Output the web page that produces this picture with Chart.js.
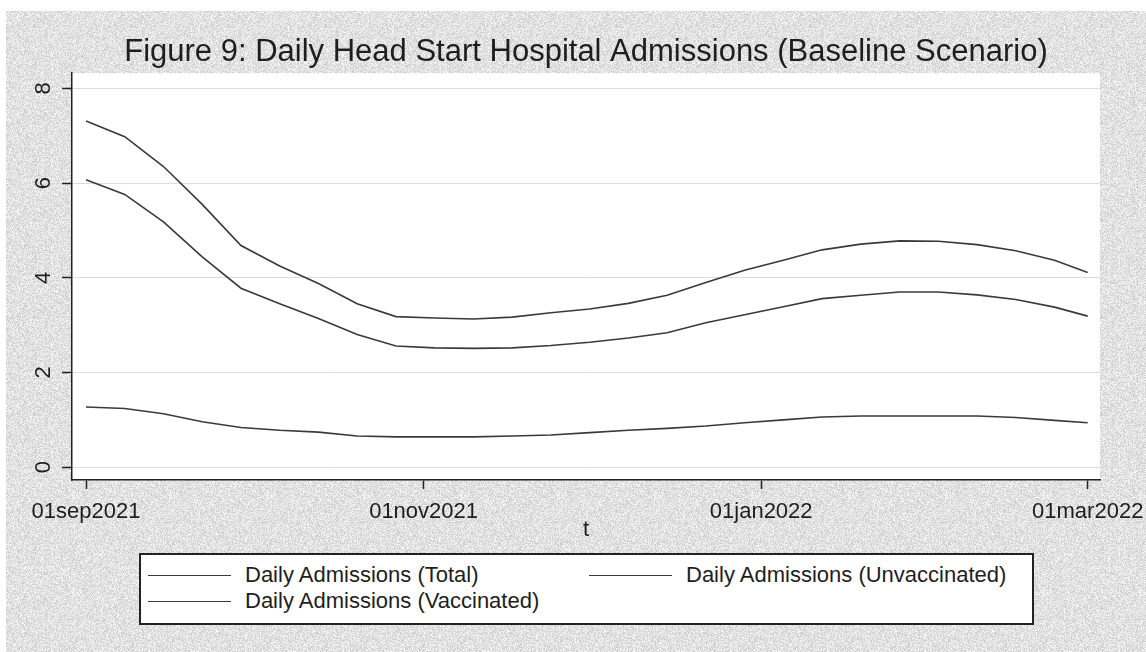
<!DOCTYPE html>
<html>
<head>
<meta charset="utf-8">
<script src="https://cdn.jsdelivr.net/npm/chart.js@4.4.1/dist/chart.umd.min.js"></script>
<style>
  html, body { margin: 0; padding: 0; background: #fff; }
  #wrap { position: relative; width: 1146px; height: 652px; }
  #legend {
    position: absolute; left: 139px; top: 553px; width: 895px; height: 72px;
    box-sizing: border-box; border: 2px solid #222; background: #fff;
    font-family: 'Liberation Sans', Arial, sans-serif; font-size: 22px; color: #1e1e1e;
  }
  .item { position: absolute; display: flex; align-items: center; height: 26px; white-space: nowrap; }
  .swatch { display: inline-block; width: 83px; height: 0; border-top: 1.5px solid #3a3a3a; margin-right: 14px; }
</style>
</head>
<body>
<div id="wrap">
  <canvas id="chart" width="1146" height="652"></canvas>
  <div id="legend"></div>
</div>
<script>
// days since 01sep2021
const dayOffsets = [0, 7, 14, 21, 28, 35, 42, 49, 56, 63, 70, 77, 84, 91, 98, 105, 112, 119, 126, 133, 140, 147, 154, 161, 168, 175, 181];

const totalAdmissions = [7.31, 6.98, 6.35, 5.55, 4.68, 4.25, 3.88, 3.45, 3.18, 3.15, 3.13, 3.17, 3.26, 3.34, 3.46, 3.63, 3.90, 4.16, 4.37, 4.59, 4.71, 4.78, 4.77, 4.70, 4.57, 4.37, 4.11];
const unvaccinatedAdmissions = [6.07, 5.76, 5.18, 4.44, 3.78, 3.45, 3.14, 2.80, 2.56, 2.52, 2.51, 2.52, 2.57, 2.64, 2.73, 2.84, 3.05, 3.22, 3.39, 3.56, 3.63, 3.70, 3.70, 3.64, 3.54, 3.38, 3.19];
const vaccinatedAdmissions = [1.27, 1.24, 1.13, 0.96, 0.84, 0.78, 0.74, 0.66, 0.64, 0.64, 0.64, 0.66, 0.68, 0.73, 0.78, 0.82, 0.87, 0.94, 1.00, 1.06, 1.08, 1.08, 1.08, 1.08, 1.05, 0.99, 0.94];

const tickDays = [0, 61, 122, 181];
const tickLabels = ['01sep2021', '01nov2021', '01jan2022', '01mar2022'];
const yTickValues = [0, 2, 4, 6, 8];

const FONT = "'Liberation Sans', Arial, sans-serif";
const INK = '#1e1e1e';
const LINE = '#3a3a3a';

Chart.defaults.font.family = FONT;
Chart.defaults.color = INK;

function toPoints(values) {
    return values.map((v, i) => ({ x: dayOffsets[i], y: v }));
}

// grainy grey backdrop like the stata scheme
function makeGrain() {
    const c = document.createElement('canvas');
    c.width = 97; c.height = 97;
    const g = c.getContext('2d');
    const img = g.createImageData(97, 97);
    let s = 7;
    for (let i = 0; i < img.data.length; i += 4) {
        s = (s * 16807) % 2147483647;
        const v = 204 + (s % 44);
        img.data[i] = img.data[i + 1] = img.data[i + 2] = v;
        img.data[i + 3] = 255;
    }
    g.putImageData(img, 0, 0);
    return c;
}

const backdrop = {
    id: 'backdrop',
    beforeDraw(chart) {
        const { ctx, chartArea: a, width, height } = chart;
        ctx.save();
        ctx.fillStyle = '#fff';
        ctx.fillRect(0, 0, width, height);
        ctx.fillStyle = ctx.createPattern(makeGrain(), 'repeat');
        ctx.fillRect(6, 11, width - 6, height - 11);
        ctx.fillStyle = '#fff';
        ctx.fillRect(a.left, a.top, a.right - a.left, a.bottom - a.top);
        ctx.restore();
    }
};

const htmlLegend = {
    id: 'htmlLegend',
    afterUpdate(chart) {
        const box = document.getElementById('legend');
        box.innerHTML = '';
        const items = Chart.defaults.plugins.legend.labels.generateLabels(chart);
        items.forEach((item, i) => {
            const col = i % 2, row = Math.floor(i / 2);
            const el = document.createElement('div');
            el.className = 'item';
            el.style.left = (col ? 448 : 7) + 'px';
            el.style.top = (row ? 33 : 7) + 'px';
            const sw = document.createElement('span');
            sw.className = 'swatch';
            sw.style.borderTopColor = item.strokeStyle;
            const tx = document.createElement('span');
            tx.textContent = item.text;
            el.appendChild(sw);
            el.appendChild(tx);
            box.appendChild(el);
        });
    }
};

const ctx = document.getElementById('chart').getContext('2d');

const admissionsChart = new Chart(ctx, {
    type: 'line',
    data: {
        datasets: [
            { label: 'Daily Admissions (Total)', data: toPoints(totalAdmissions) },
            { label: 'Daily Admissions (Unvaccinated)', data: toPoints(unvaccinatedAdmissions) },
            { label: 'Daily Admissions (Vaccinated)', data: toPoints(vaccinatedAdmissions) }
        ]
    },
    options: {
        responsive: false,
        animation: false,
        layout: { padding: { top: 12, left: 6, right: 46, bottom: 107 } },
        elements: {
            line: { borderColor: LINE, borderWidth: 1.6, tension: 0, fill: false },
            point: { radius: 0, hoverRadius: 0 }
        },
        plugins: {
            legend: { display: false },
            tooltip: { enabled: false },
            title: {
                display: true,
                fullSize: false,
                text: 'Figure 9: Daily Head Start Hospital Admissions (Baseline Scenario)',
                color: INK,
                font: { size: 31, weight: 'normal' },
                padding: { top: 22, bottom: 2 }
            }
        },
        scales: {
            x: {
                type: 'linear',
                min: -2.53,
                max: 183.22,
                afterBuildTicks: s => { s.ticks = tickDays.map(v => ({ value: v })); },
                afterFit: s => { s.height = 65; s.paddingLeft = 0; s.paddingRight = 0; },
                border: { display: true, color: '#222', width: 1.5 },
                grid: { drawOnChartArea: false, tickLength: 9, tickColor: '#222', tickWidth: 1.5 },
                ticks: {
                    autoSkip: false, minRotation: 0, maxRotation: 0, padding: 10,
                    color: INK, font: { size: 22 },
                    callback: (value, index) => tickLabels[index]
                },
                title: { display: true, text: 't', color: INK, font: { size: 22 }, padding: { top: 0, bottom: 2 } }
            },
            y: {
                min: -0.27,
                max: 8.32,
                afterBuildTicks: s => { s.ticks = yTickValues.map(v => ({ value: v })); },
                afterFit: s => { s.width = 66; s.paddingTop = 0; s.paddingBottom = 0; },
                border: { display: true, color: '#222', width: 1.5 },
                grid: { color: '#dcdcdc', lineWidth: 1, tickLength: 10, tickColor: '#222', tickWidth: 1.5 },
                ticks: {
                    minRotation: 90, maxRotation: 90, crossAlign: 'center', padding: 12,
                    color: INK, font: { size: 22 }
                }
            }
        }
    },
    plugins: [backdrop, htmlLegend]
});
</script>
</body>
</html>
